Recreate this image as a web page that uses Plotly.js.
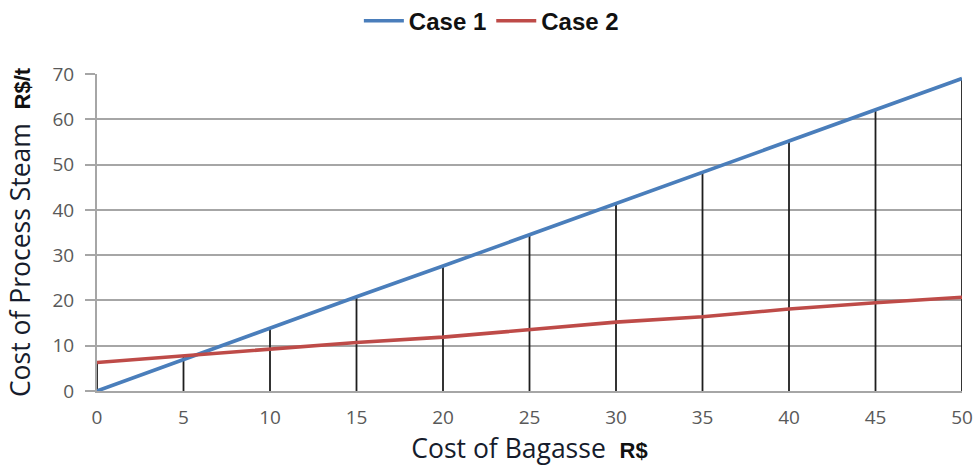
<!DOCTYPE html>
<html>
<head>
<meta charset="utf-8">
<script src="https://cdn.plot.ly/plotly-3.0.1.min.js"></script>
<style>
  html, body { margin: 0; padding: 0; background: #fff; }
  #chart { width: 973px; height: 469px; }
</style>
</head>
<body>
<div id="chart"></div>
<script>
// Cost of bagasse (R$) on the x axis
const bagasseCost = [0, 5, 10, 15, 20, 25, 30, 35, 40, 45, 50];
// Cost of process steam (R$/t) for each case
const case1Steam = [0, 7.0, 13.9, 20.8, 27.6, 34.5, 41.3, 48.4, 55.2, 62.0, 69.0];
const case2Steam = [6.3, 7.8, 9.2, 10.7, 11.9, 13.6, 15.2, 16.4, 18.1, 19.5, 20.7];
const seriesNames = ['Case 1', 'Case 2'];
const xTicks = [0, 5, 10, 15, 20, 25, 30, 35, 40, 45, 50];
const yTicks = [0, 10, 20, 30, 40, 50, 60, 70];

// Drop lines: from the axis up to the higher of the two series at each x
const dropX = [], dropY = [];
bagasseCost.forEach((x, i) => {
  dropX.push(x, x, null);
  dropY.push(0, Math.max(case1Steam[i], case2Steam[i]), null);
});

const traces = [
  {
    x: dropX, y: dropY, mode: 'lines', showlegend: false, hoverinfo: 'skip',
    line: { color: '#1e1e1e', width: 1.8 }
  },
  {
    x: bagasseCost, y: case1Steam, name: seriesNames[0], mode: 'lines',
    line: { color: '#4a7ebb', width: 3.6 }
  },
  {
    x: bagasseCost, y: case2Steam, name: seriesNames[1], mode: 'lines',
    line: { color: '#be4b48', width: 3.6 }
  }
];

const titleFont = { family: 'Open Sans, sans-serif', size: 26.5, color: '#161c2c', weight: 500 };
const unitStyle = 'font-family:Liberation Sans,Arial,sans-serif;font-weight:bold;font-size:22px;fill:#111';

const layout = {
  width: 973, height: 469,
  margin: { l: 97, r: 11, t: 74, b: 78 },
  paper_bgcolor: '#fff', plot_bgcolor: '#fff',
  showlegend: true,
  legend: {
    orientation: 'h', xref: 'container', yref: 'container',
    x: 0.505, xanchor: 'center', y: 0.955, yanchor: 'middle',
    font: { family: 'Liberation Sans, Arial, sans-serif', size: 24, color: '#111', weight: 'bold' },
    itemwidth: 40, traceorder: 'normal'
  },
  xaxis: {
    range: [0, 50], tickvals: xTicks, ticktext: xTicks.map(String),
    showgrid: false, zeroline: false, showline: true, linecolor: '#a6a6a6', linewidth: 2,
    ticks: '', ticklabelstandoff: 8,
    tickfont: { family: 'Open Sans, sans-serif', size: 19, color: '#595959' },
    title: {
      text: 'Cost of Bagasse&nbsp;&nbsp;<span style="' + unitStyle + '">R$</span>',
      font: titleFont, standoff: 8
    },
    automargin: false, fixedrange: true
  },
  yaxis: {
    range: [0, 70], tickvals: yTicks, ticktext: yTicks.map(String),
    showgrid: true, gridcolor: '#a6a6a6', gridwidth: 2,
    zeroline: false, showline: true, linecolor: '#a6a6a6', linewidth: 2,
    ticks: 'outside', ticklen: 10, tickcolor: '#a6a6a6', tickwidth: 2,
    ticklabelstandoff: 7,
    tickfont: { family: 'Open Sans, sans-serif', size: 19, color: '#595959' },
    title: {
      text: 'Cost of Process Steam&nbsp;&nbsp;<span style="' + unitStyle + '">R$/t</span>',
      font: titleFont, standoff: 14
    },
    automargin: false, fixedrange: true
  }
};

Plotly.newPlot('chart', traces, layout, { displayModeBar: false, staticPlot: true });
</script>
</body>
</html>
